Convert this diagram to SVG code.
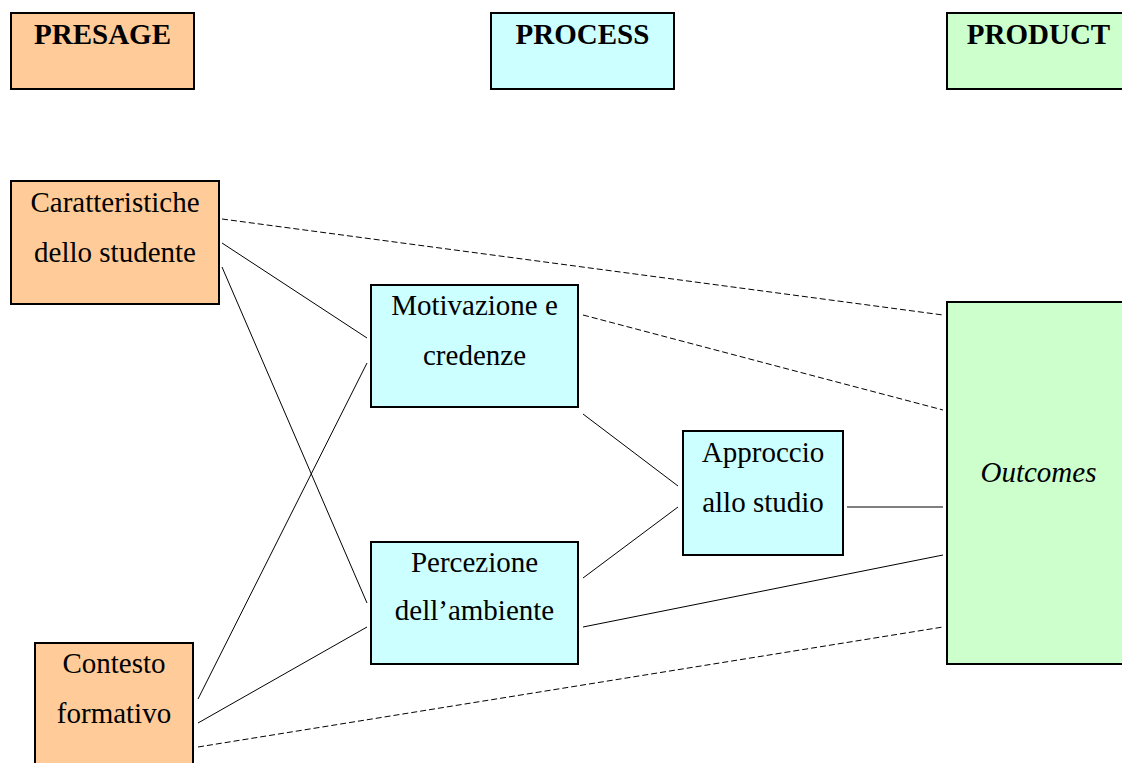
<svg xmlns="http://www.w3.org/2000/svg" width="1122" height="763" viewBox="0 0 1122 763">
  <style>
    .box { stroke: #000; stroke-width: 2; }
    .presage { fill: #FFCC99; }
    .process { fill: #CCFFFF; }
    .product { fill: #CCFFCC; }
    text { font-family: "Liberation Serif", "Times New Roman", serif; font-size: 29px; fill: #000; text-anchor: middle; }
    .head { font-weight: bold; }
    .ital { font-style: italic; }
    .link { stroke: #000; stroke-width: 1; fill: none; }
    .dash { stroke-dasharray: 6 3; }
  </style>
  <rect width="1122" height="763" fill="#fff"/>

  <!-- column headers -->
  <g id="hdr-presage">
    <rect class="box presage" x="11" y="13" width="183" height="76"/>
    <text class="head" x="102.5" y="44">PRESAGE</text>
  </g>
  <g id="hdr-process">
    <rect class="box process" x="491" y="13" width="183" height="76"/>
    <text class="head" x="582.5" y="44">PROCESS</text>
  </g>
  <g id="hdr-product">
    <rect class="box product" x="947" y="13" width="183" height="76"/>
    <text class="head" x="1038.5" y="44">PRODUCT</text>
  </g>

  <!-- connectors -->
  <g id="connectors">
    <line class="link dash" x1="222" y1="219" x2="943" y2="315"/>
    <line class="link" x1="222" y1="243" x2="367" y2="338"/>
    <line class="link" x1="222" y1="267" x2="367" y2="603"/>
    <line class="link dash" x1="583" y1="315" x2="943" y2="410"/>
    <line class="link" x1="583" y1="414" x2="678" y2="486"/>
    <line class="link" x1="583" y1="578" x2="678" y2="507"/>
    <line class="link" x1="847" y1="507" x2="943" y2="507"/>
    <line class="link" x1="583" y1="627" x2="943" y2="555"/>
    <line class="link" x1="198" y1="699" x2="367" y2="363"/>
    <line class="link" x1="198" y1="723" x2="367" y2="627"/>
    <line class="link dash" x1="198" y1="747" x2="943" y2="627"/>
  </g>

  <!-- nodes -->
  <g id="caratteristiche">
    <rect class="box presage" x="11" y="181" width="208" height="123"/>
    <text x="115" y="212">Caratteristiche</text>
    <text x="115" y="262">dello studente</text>
  </g>
  <g id="contesto">
    <rect class="box presage" x="35" y="643" width="158" height="130"/>
    <text x="114" y="673">Contesto</text>
    <text x="114" y="723">formativo</text>
  </g>
  <g id="motivazione">
    <rect class="box process" x="371" y="285" width="207" height="122"/>
    <text x="474.5" y="315">Motivazione e</text>
    <text x="474.5" y="365">credenze</text>
  </g>
  <g id="percezione">
    <rect class="box process" x="371" y="542" width="207" height="122"/>
    <text x="474.5" y="572">Percezione</text>
    <text x="474.5" y="620">dell’ambiente</text>
  </g>
  <g id="approccio">
    <rect class="box process" x="683" y="431" width="160" height="124"/>
    <text x="763" y="462">Approccio</text>
    <text x="763" y="512">allo studio</text>
  </g>
  <g id="outcomes">
    <rect class="box product" x="947" y="302" width="183" height="362"/>
    <text class="ital" x="1038.5" y="482">Outcomes</text>
  </g>
</svg>
